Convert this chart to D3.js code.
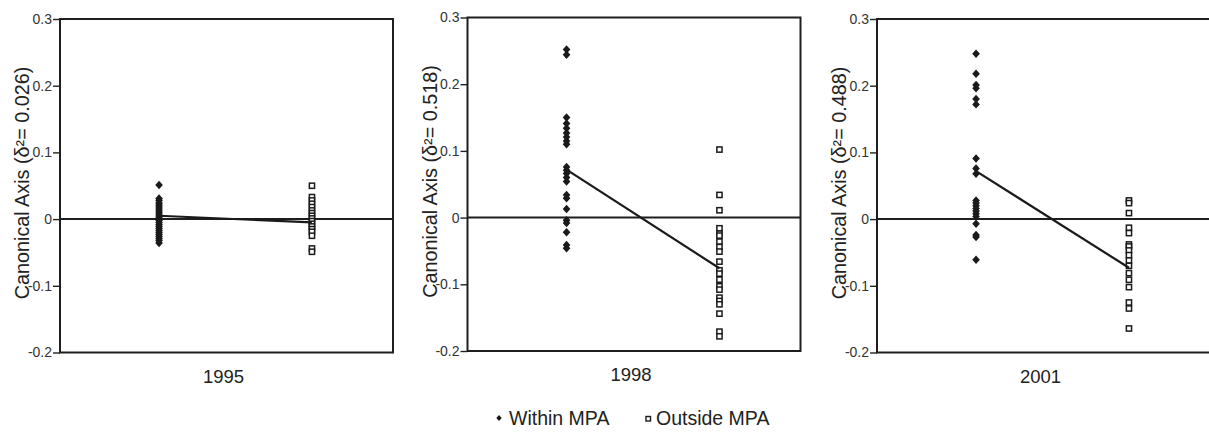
<!DOCTYPE html>
<html><head><meta charset="utf-8">
<script src="https://cdn.jsdelivr.net/npm/d3@7"></script>
<style>
html,body{margin:0;padding:0;background:#fff;}
svg{display:block;font-family:"Liberation Sans",Arial,Helvetica,sans-serif;}
</style></head>
<body>
<svg id="chart" width="1209" height="435"></svg>
<script>
// ---- data ----
const years = ["1995", "1998", "2001"];
const deltaSq = ["0.026", "0.518", "0.488"];
const groups = ["Within MPA", "Outside MPA"];
const yTicks = [-0.2, -0.1, 0, 0.1, 0.2, 0.3];
const yTickLabels = ["-0.2", "-0.1", "0", "0.1", "0.2", "0.3"];

const within1995 = [0.051, 0.031, 0.028, 0.024, 0.021, 0.018, 0.015, 0.012, 0.009, 0.006, 0.003, 0.001, -0.002, -0.005, -0.008, -0.011, -0.014, -0.017, -0.020, -0.023, -0.026, -0.029, -0.032, -0.036];
const outside1995 = [0.050, 0.033, 0.028, 0.023, 0.018, 0.013, 0.009, 0.005, 0.001, -0.003, -0.007, -0.011, -0.015, -0.019, -0.025, -0.044, -0.049];
const within1998 = [0.252, 0.244, 0.150, 0.141, 0.134, 0.127, 0.121, 0.115, 0.110, 0.076, 0.071, 0.066, 0.060, 0.054, 0.034, 0.029, 0.013, -0.004, -0.008, -0.022, -0.041, -0.046];
const outside1998 = [0.102, 0.034, 0.011, -0.016, -0.024, -0.027, -0.036, -0.044, -0.051, -0.066, -0.079, -0.084, -0.093, -0.103, -0.108, -0.120, -0.125, -0.130, -0.144, -0.171, -0.178];
const within2001 = [0.248, 0.218, 0.201, 0.196, 0.180, 0.172, 0.091, 0.076, 0.068, 0.028, 0.024, 0.020, 0.016, 0.012, 0.008, 0.004, -0.007, -0.024, -0.027, -0.061];
const outside2001 = [0.028, 0.024, 0.009, -0.013, -0.021, -0.038, -0.041, -0.047, -0.054, -0.062, -0.070, -0.081, -0.091, -0.102, -0.125, -0.134, -0.164];
const meanWithin = [0.005, 0.072, 0.072];
const meanOutside = [-0.005, -0.076, -0.073];

const withinByYear = [within1995, within1998, within2001];
const outsideByYear = [outside1995, outside1998, outside2001];

// ---- layout ----
const svg = d3.select("#chart");
const panelLeft = [60, 467.5, 877];
const panelTop = [19, 17.5, 19];
const pw = 333, ph = 333.5;

const diamond = { draw(ctx, size) { const w = Math.sqrt(size) * 0.45, h = Math.sqrt(size) * 0.5;
  ctx.moveTo(0, -h); ctx.lineTo(w, 0); ctx.lineTo(0, h); ctx.lineTo(-w, 0); ctx.closePath(); } };

years.forEach((yr, i) => {
  const g = svg.append("g").attr("transform", `translate(${panelLeft[i]},${panelTop[i]})`);
  const x = d3.scalePoint().domain(groups).range([18, pw]).padding(0.53);
  const y = d3.scaleLinear().domain([-0.2, 0.3]).range([ph, 0]);

  // frame
  g.append("rect").attr("x", 0).attr("y", 0).attr("width", pw).attr("height", ph)
    .attr("fill", "none").attr("stroke", "#1e1e1e").attr("stroke-width", 2);

  // y axis
  const ax = g.append("g").call(d3.axisLeft(y).tickValues(yTicks)
      .tickFormat((d, k) => yTickLabels[k]).tickSize(7).tickPadding(1));
  ax.select(".domain").remove();
  ax.selectAll(".tick line").attr("stroke", "#222").attr("stroke-width", 1.4);
  ax.selectAll(".tick text").attr("fill", "#333").style("font-size", "14px")
    .style("font-family", "'Liberation Sans',Arial,sans-serif");

  // zero line
  g.append("line").attr("x1", 0).attr("x2", pw).attr("y1", y(0)).attr("y2", y(0))
    .attr("stroke", "#1e1e1e").attr("stroke-width", 2);

  // within points
  g.selectAll("path.w").data(withinByYear[i]).join("path").attr("class", "w")
    .attr("transform", d => `translate(${x(groups[0])},${y(d)})`)
    .attr("d", d3.symbol().type(diamond).size(72)).attr("fill", "#1a1a1a");

  // outside points
  g.selectAll("rect.o").data(outsideByYear[i]).join("rect").attr("class", "o")
    .attr("x", x(groups[1]) - 2.6).attr("y", d => y(d) - 2.6)
    .attr("width", 5.2).attr("height", 5.2)
    .attr("fill", "#fff").attr("stroke", "#1a1a1a").attr("stroke-width", 1.5);

  // mean line
  g.append("line").attr("x1", x(groups[0])).attr("y1", y(meanWithin[i]))
    .attr("x2", x(groups[1])).attr("y2", y(meanOutside[i]))
    .attr("stroke", "#1a1a1a").attr("stroke-width", 2.2);

  // x label
  g.append("text").attr("x", pw / 2 - 3).attr("y", ph + 30).attr("text-anchor", "middle")
    .attr("fill", "#222").style("font-size", "18.5px").text(yr);

  // y title
  g.append("text").attr("transform", `translate(${-31},${164}) rotate(-90)`)
    .attr("text-anchor", "middle").attr("fill", "#222").style("font-size", "19.8px")
    .text(`Canonical Axis (δ²= ${deltaSq[i]})`);
});

// legend
const lg = svg.append("g");
lg.append("path").attr("transform", "translate(499,418)")
  .attr("d", d3.symbol().type(diamond).size(36)).attr("fill", "#1a1a1a");
lg.append("text").attr("x", 509).attr("y", 424.5).attr("fill", "#222").style("font-size", "19.5px").text(groups[0]);
lg.append("rect").attr("x", 646).attr("y", 416.5).attr("width", 4.5).attr("height", 4.5)
  .attr("fill", "#fff").attr("stroke", "#1a1a1a").attr("stroke-width", 1.4);
lg.append("text").attr("x", 656).attr("y", 424.5).attr("fill", "#222").style("font-size", "19.5px").text(groups[1]);
</script>
</body></html>
